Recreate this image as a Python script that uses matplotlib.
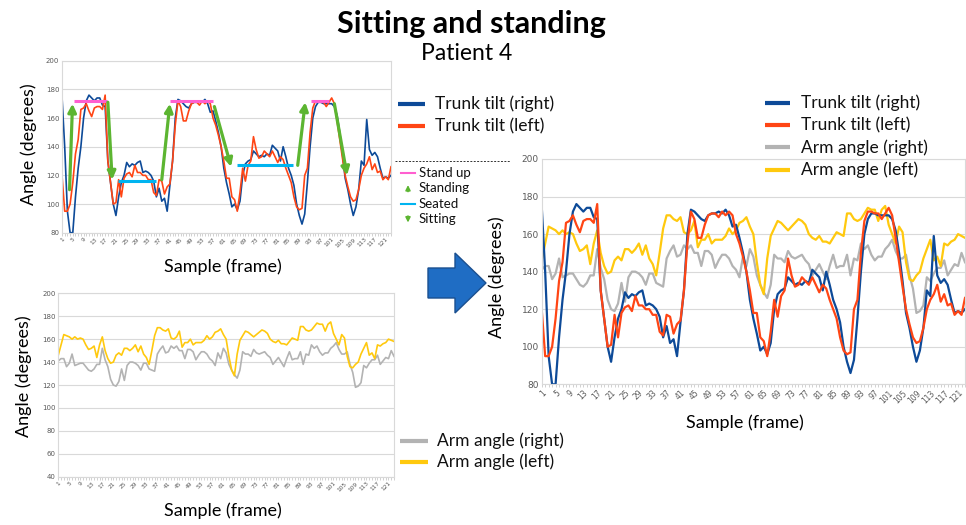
import matplotlib
matplotlib.use('Agg')
import matplotlib.pyplot as plt
import numpy as np
from matplotlib.lines import Line2D
from matplotlib.patches import Polygon, FancyArrowPatch

plt.rcParams['font.family'] = ['Lato', 'DejaVu Sans']

W, H = 966, 525

# ---------------- data ----------------
samples = np.arange(1, 124)
tick_samples = list(range(1, 124, 4))

trunk_right = [175, 140, 95, 80, 80, 105, 125, 140, 160, 172,
               176, 174, 172, 174, 174, 169, 168, 130, 115, 100,
               92, 105, 115, 120, 129, 126, 128, 127, 129, 130,
               122, 123, 122, 120, 116, 105, 111, 102, 104, 95,
               113, 130, 160, 173, 172, 170, 168, 167, 170, 171,
               171, 172, 171, 173, 170, 164, 165, 158, 150, 140,
               125, 115, 107, 98, 100, 96, 102, 120, 128, 130,
               131, 137, 135, 133, 134, 133, 135, 134, 141, 139,
               137, 130, 140, 133, 125, 120, 113, 100, 92, 86,
               93, 115, 140, 160, 168, 171, 171, 170, 170, 170,
               170, 168, 162, 150, 135, 118, 110, 100, 92, 98,
               110, 130, 127, 159, 138, 134, 136, 133, 125, 118,
               119, 118, 120]

trunk_left = [120, 95, 95, 100, 115, 135, 145, 166, 167, 170,
              165, 161, 167, 168, 168, 166, 176, 130, 115, 100,
              101, 117, 105, 118, 121, 122, 119, 127, 122, 122,
              120, 120, 117, 117, 108, 106, 117, 116, 107, 112,
              114, 130, 155, 172, 168, 158, 158, 165, 170, 171,
              171, 169, 172, 170, 172, 170, 160, 155, 148, 140,
              130, 118, 118, 105, 103, 95, 108, 125, 116, 127,
              130, 147, 138, 132, 133, 137, 135, 133, 137, 133,
              129, 133, 131, 125, 120, 115, 105, 98, 96, 97,
              120, 125, 150, 167, 172, 172, 171, 171, 168, 171,
              174, 170, 158, 145, 132, 120, 112, 105, 102, 103,
              110, 120, 125, 128, 133, 124, 128, 122, 123, 117,
              119, 117, 126]

arm_right = [141, 143, 143, 136, 139, 147, 137, 138, 139, 139,
             136, 133, 132, 134, 138, 138, 152, 142, 136, 125,
             120, 119, 123, 134, 124, 137, 140, 140, 139, 137,
             133, 139, 139, 134, 133, 132, 147, 151, 154, 148,
             149, 154, 152, 154, 150, 150, 143, 151, 151, 149,
             142, 146, 149, 149, 147, 143, 141, 137, 148, 143,
             152, 148, 138, 133, 129, 126, 133, 149, 147, 147,
             145, 151, 148, 147, 148, 149, 146, 144, 138, 141,
             144, 140, 136, 143, 149, 142, 143, 143, 149, 138,
             147, 146, 155, 152, 154, 149, 146, 148, 148, 152,
             154, 157, 151, 147, 147, 149, 138, 131, 118, 119,
             122, 137, 135, 139, 142, 142, 146, 138, 141, 144,
             143, 150, 145]

arm_left = [146, 155, 164, 163, 162, 160, 162, 160, 161, 160,
            155, 151, 152, 154, 144, 155, 162, 150, 143, 139,
            140, 146, 148, 146, 152, 152, 150, 152, 155, 149,
            154, 147, 144, 138, 150, 163, 170, 170, 168, 167,
            169, 161, 160, 162, 167, 153, 157, 157, 160, 155,
            157, 157, 157, 159, 163, 160, 162, 166, 167, 169,
            164, 160, 145, 133, 128, 147, 159, 163, 167, 166,
            164, 162, 164, 166, 168, 167, 165, 160, 158, 157,
            159, 156, 156, 155, 158, 161, 160, 159, 171, 171,
            168, 167, 168, 171, 174, 173, 173, 167, 173, 175,
            165, 160, 155, 164, 161, 145, 136, 135, 138, 140,
            147, 152, 157, 146, 148, 143, 155, 154, 156, 157,
            160, 159, 158]

# annotation phases on the trunk chart (sample, angle)
stand_up_x = [(5.3, 17.7), (41.0, 57.0), (93.3, 100.0)]
stand_up_y = [172, 172, 172]
seated_x = [(21.7, 35.9), (65.8, 86.6)]
seated_y = [116, 127]
standing_arrows = [((3.8, 110), (4.9, 170)), ((38.0, 117), (41.0, 170)),
                   ((88.4, 127), (91.2, 171))]
sitting_arrows = [((18.0, 171), (19.6, 117)), ((57.5, 168), (63.7, 126)),
                  ((102.0, 170), (106.7, 120))]

labels_trunk = ['Trunk tilt (right)', 'Trunk tilt (left)']
labels_arm = ['Arm angle (right)', 'Arm angle (left)']
labels_phase = ['Stand up', 'Standing', 'Seated', 'Sitting']

C_BLUE = '#0d4a98'
C_RED = '#ff4514'
C_GRAY = '#b3b3b3'
C_YELLOW = '#ffc90e'
C_PINK = '#ff5fd0'
C_CYAN = '#00b4f0'
C_GREEN = '#5cb531'

# ---------------- helpers ----------------
def fx(x):
    return x / W

def fy(y):
    return 1 - y / H

def rect(l, t, r, b):
    return [fx(l), fy(b), (r - l) / W, (b - t) / H]

def style(ax, ymin, ymax, ystep, ylab_size, xlab_size):
    ax.set_xlim(1, 123)
    ax.set_ylim(ymin, ymax)
    ax.set_yticks(range(ymin, ymax + 1, ystep))
    ax.set_xticks(tick_samples)
    ax.set_xticklabels([str(t) for t in tick_samples], rotation=45,
                       ha='right', rotation_mode='anchor')
    ax.set_xticks(samples, minor=True)
    ax.grid(axis='y', color='#d9d9d9', lw=0.8)
    ax.set_axisbelow(True)
    for s in ax.spines.values():
        s.set_color('#d9d9d9')
        s.set_linewidth(0.8)
    ax.tick_params(axis='y', length=0, labelsize=ylab_size,
                   labelcolor='#595959', pad=2,
                   labelfontfamily='DejaVu Sans')
    ax.tick_params(axis='x', which='both', length=2, width=0.5,
                   color='#bfbfbf', labelsize=xlab_size,
                   labelcolor='#595959', pad=1,
                   labelfontfamily='DejaVu Sans')

def legend_rows(fig, x0, x1, xt, ys, colors, labels, size, lw=3):
    for y, c, lab in zip(ys, colors, labels):
        fig.add_artist(Line2D([fx(x0), fx(x1)], [fy(y), fy(y)], color=c,
                              lw=lw, transform=fig.transFigure,
                              solid_capstyle='butt'))
        fig.text(fx(xt), fy(y), lab, fontsize=size, va='center', ha='left',
                 color='#111111')

# ---------------- figure ----------------
fig = plt.figure(figsize=(W / 100, H / 100), dpi=100)
fig.patch.set_facecolor('white')

fig.text(fx(471), fy(24), 'Sitting and standing', fontsize=22,
         fontweight='bold', ha='center', va='center')
fig.text(fx(466.5), fy(54), 'Patient 4', fontsize=16.5, ha='center',
         va='center')

# top-left: trunk tilt
ax1 = fig.add_axes(rect(62, 60.7, 391, 232.7))
style(ax1, 80, 200, 20, 5, 4.2)
ax1.plot(samples, trunk_right, color=C_BLUE, lw=1.2)
ax1.plot(samples, trunk_left, color=C_RED, lw=1.2)
for (xa, xb), yv in zip(stand_up_x, stand_up_y):
    ax1.plot([xa, xb], [yv, yv], color=C_PINK, lw=2.2, solid_capstyle='butt')
for (xa, xb), yv in zip(seated_x, seated_y):
    ax1.plot([xa, xb], [yv, yv], color=C_CYAN, lw=2.2, solid_capstyle='butt')
for (p0, p1) in standing_arrows + sitting_arrows:
    ax1.annotate('', xy=p1, xytext=p0,
                 arrowprops=dict(arrowstyle='-|>', color=C_GREEN, lw=2.3,
                                 mutation_scale=12, shrinkA=0, shrinkB=0))
fig.text(fx(29), fy(144), 'Angle (degrees)', rotation=90, fontsize=13,
         ha='center', va='center')
fig.text(fx(223), fy(267), 'Sample (frame)', fontsize=13, ha='center',
         va='center')

legend_rows(fig, 398, 425, 435, [104, 126], [C_BLUE, C_RED], labels_trunk,
            12.5)

# dashed separator and phase legend
fig.add_artist(Line2D([fx(395), fx(510)], [fy(161), fy(161)], color='#333333',
                      lw=0.7, ls=(0, (2, 1.5)), transform=fig.transFigure))
py = [173.3, 188.3, 204, 219.3]
fig.add_artist(Line2D([fx(401), fx(415)], [fy(py[0]), fy(py[0])],
                      color=C_PINK, lw=1.5, transform=fig.transFigure))
fig.add_artist(Line2D([fx(401), fx(415)], [fy(py[2]), fy(py[2])],
                      color=C_CYAN, lw=1.5, transform=fig.transFigure))
fig.add_artist(FancyArrowPatch(
    (fx(408), fy(py[1] + 6)), (fx(408), fy(py[1] - 6)),
    transform=fig.transFigure, arrowstyle='-|>', mutation_scale=7,
    color=C_GREEN, lw=1.2))
fig.add_artist(FancyArrowPatch(
    (fx(408), fy(py[3] - 6)), (fx(408), fy(py[3] + 6)),
    transform=fig.transFigure, arrowstyle='-|>', mutation_scale=7,
    color=C_GREEN, lw=1.2))
for y, lab in zip(py, labels_phase):
    fig.text(fx(419), fy(y), lab, fontsize=9.5, va='center', ha='left',
             color='#111111')

# bottom-left: arm angles
ax2 = fig.add_axes(rect(58.3, 293.3, 394, 476.7))
style(ax2, 40, 200, 20, 5, 4.2)
ax2.plot(samples, arm_right, color=C_GRAY, lw=1.2)
ax2.plot(samples, arm_left, color=C_YELLOW, lw=1.2)
fig.text(fx(24), fy(376), 'Angle (degrees)', rotation=90, fontsize=13,
         ha='center', va='center')
fig.text(fx(223), fy(511), 'Sample (frame)', fontsize=13, ha='center',
         va='center')
legend_rows(fig, 400, 428, 437, [441, 462], [C_GRAY, C_YELLOW], labels_arm,
            12.5)

# block arrow
arrow_pts = [(428, 268), (455, 268), (455, 253), (486, 283), (455, 313),
             (455, 298), (428, 298)]
fig.add_artist(Polygon([(fx(x), fy(y)) for x, y in arrow_pts], closed=True,
                       facecolor='#1f6dc4', edgecolor='#1a4f8f', lw=1,
                       transform=fig.transFigure))

# right: combined
ax3 = fig.add_axes(rect(541.7, 159, 965, 384.3))
style(ax3, 80, 200, 20, 6.5, 5.5)
ax3.plot(samples, arm_right, color=C_GRAY, lw=1.6)
ax3.plot(samples, arm_left, color=C_YELLOW, lw=1.6)
ax3.plot(samples, trunk_right, color=C_BLUE, lw=1.6)
ax3.plot(samples, trunk_left, color=C_RED, lw=1.6)
fig.text(fx(497), fy(277), 'Angle (degrees)', rotation=90, fontsize=13,
         ha='center', va='center')
fig.text(fx(745), fy(423), 'Sample (frame)', fontsize=13, ha='center',
         va='center')
legend_rows(fig, 765, 790, 801, [102.7, 125, 147.3, 170],
            [C_BLUE, C_RED, C_GRAY, C_YELLOW], labels_trunk + labels_arm,
            12.5)

fig.savefig('out.png', dpi=100, facecolor='white')
